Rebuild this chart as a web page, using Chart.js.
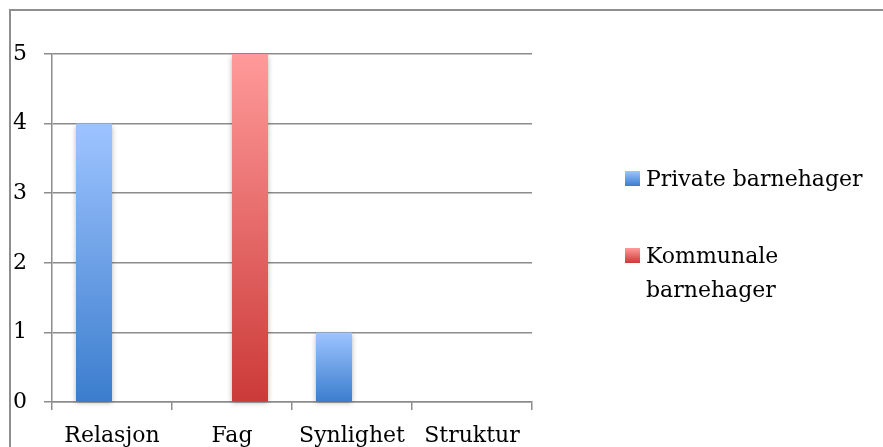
<!DOCTYPE html>
<html><head><meta charset="utf-8">
<script src="https://cdn.jsdelivr.net/npm/chart.js@4"></script>
<style>
html,body{margin:0;padding:0;background:#fff;overflow:hidden;width:883px;height:447px}
#wrap{position:absolute;left:0;top:0;width:883px;height:447px}
#frame{position:absolute;left:9px;top:9px;width:880px;height:445px;border-top:2px solid #8f8f8f;border-left:2px solid #8f8f8f}
#c{position:absolute;left:0;top:0}
</style></head><body>
<div id="wrap"><div id="frame"></div><canvas id="c" width="883" height="447"></canvas></div>
<script>
const categories = ['Relasjon', 'Fag', 'Synlighet', 'Struktur'];
const seriesNames = ['Private barnehager', 'Kommunale barnehager'];
const privateValues = [4, 0, 1, 0];
const kommunaleValues = [0, 5, 0, 0];
const yTicks = [0, 1, 2, 3, 4, 5];
const legendLines = [['Private barnehager'], ['Kommunale', 'barnehager']];

const FONT = '"DejaVu Serif", serif';
const FSIZE = 22;
const blueTop = '#9ec4ff', blueBottom = '#3b7dcd';
const redTop = '#ff9a9a', redBottom = '#cb3a38';
const GRID = '#8c8c8c';

function barGradient(top, bottom) {
  return (ctx) => {
    const chart = ctx.chart;
    if (!chart.chartArea || ctx.type !== 'data') return top;
    const y = chart.scales.y;
    const p0 = y.getPixelForValue(0), p1 = y.getPixelForValue(ctx.raw);
    if (!isFinite(p0) || !isFinite(p1) || p0 === p1) return top;
    const g = chart.ctx.createLinearGradient(0, p1, 0, p0);
    g.addColorStop(0, top);
    g.addColorStop(1, bottom);
    return g;
  };
}

const shadowPlugin = {
  id: 'shadow',
  beforeDatasetsDraw(chart) {
    const c = chart.ctx; c.save();
    c.shadowColor = 'rgba(0,0,0,0.3)'; c.shadowBlur = 5; c.shadowOffsetX = 0; c.shadowOffsetY = 2;
  },
  afterDatasetsDraw(chart) { chart.ctx.restore(); }
};

const legendPlugin = {
  id: 'customLegend',
  afterDraw(chart) {
    const c = chart.ctx;
    const colors = [[blueTop, blueBottom], [redTop, redBottom]];
    const baselines = [186, 263];
    c.save();
    c.font = FSIZE + 'px ' + FONT;
    c.fillStyle = '#000';
    c.textBaseline = 'alphabetic';
    c.textAlign = 'left';
    legendLines.forEach((lines, i) => {
      const b = baselines[i];
      const g = c.createLinearGradient(0, b - 15, 0, b);
      g.addColorStop(0, colors[i][0]); g.addColorStop(1, colors[i][1]);
      c.fillStyle = g;
      c.fillRect(625, b - 15, 15, 15);
      c.fillStyle = '#000';
      lines.forEach((t, j) => c.fillText(t, 646, b + j * 34));
    });
    c.restore();
  }
};

new Chart(document.getElementById('c'), {
  type: 'bar',
  data: {
    labels: categories,
    datasets: [
      { label: seriesNames[0], data: privateValues, backgroundColor: barGradient(blueTop, blueBottom), borderWidth: 0, clip: false },
      { label: seriesNames[1], data: kommunaleValues, backgroundColor: barGradient(redTop, redBottom), borderWidth: 0, clip: false }
    ]
  },
  options: {
    responsive: false,
    animation: false,
    categoryPercentage: 0.6,
    barPercentage: 1,
    layout: { padding: { left: 0, top: 54, right: 351, bottom: 0 } },
    plugins: { legend: { display: false }, tooltip: { enabled: false } },
    scales: {
      x: {
        afterFit(s) { s.height = 45; },
        grid: { display: true, drawOnChartArea: false, drawTicks: true, tickLength: 8, color: GRID, lineWidth: 1.5, offset: true },
        border: { display: true, color: GRID, width: 1.5 },
        ticks: { color: '#000', font: { family: FONT, size: FSIZE }, padding: 13, maxRotation: 0, autoSkip: false }
      },
      y: {
        min: yTicks[0], max: yTicks[yTicks.length - 1],
        afterFit(s) { s.width = 52; },
        afterBuildTicks(s) { s.ticks = yTicks.map(v => ({ value: v })); },
        grid: { color: GRID, lineWidth: 1.5, tickLength: 8, drawTicks: true },
        border: { display: true, color: GRID, width: 1.5 },
        ticks: { color: '#000', font: { family: FONT, size: FSIZE }, padding: 17 }
      }
    }
  },
  plugins: [shadowPlugin, legendPlugin]
});
</script>
</body></html>
